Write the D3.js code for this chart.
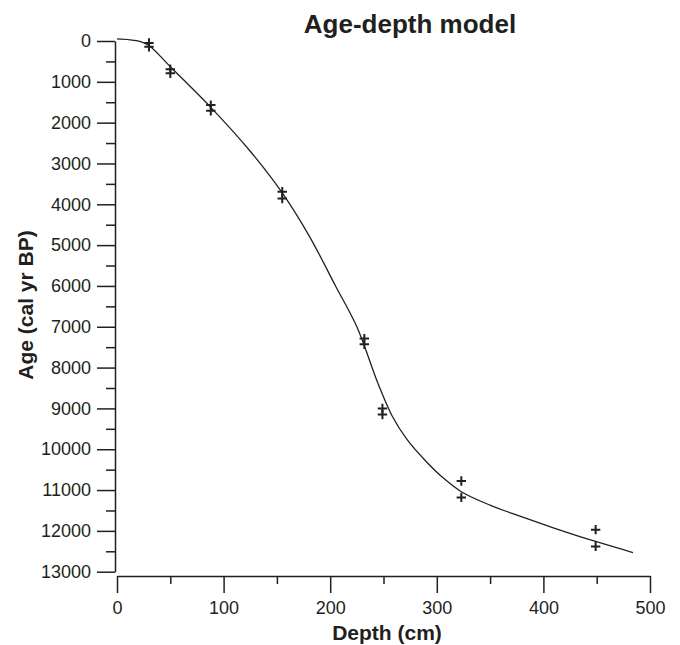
<!DOCTYPE html>
<html>
<head>
<meta charset="utf-8">
<script src="https://cdn.jsdelivr.net/npm/d3@7"></script>
<style>
  body { margin: 0; background: #fff; }
  svg { font-family: "Liberation Sans", Arial, Helvetica, sans-serif; }
</style>
</head>
<body>
<div id="viz"></div>
<script>
// Dated samples: each depth has two calibrated ages
const sampleDepths = [30, 30, 50, 50, 88, 88, 155, 155, 232, 232, 249, 249, 323, 323, 449, 449]
const sampleAges = [50, 140, 690, 790, 1570, 1710, 3690, 3860, 7290, 7430, 9000, 9150, 10780, 11180, 11970, 12380]

// Age-depth model curve
const modelDepths = [0, 12, 22, 30, 50, 88, 125, 155, 180, 205, 225, 245, 258, 272, 290, 305, 323, 350, 378, 410, 449, 484]
const modelAges = [-50, -30, 15, 110, 630, 1625, 2700, 3720, 4760, 6000, 7000, 8400, 9180, 9760, 10300, 10680, 11040, 11370, 11640, 11930, 12260, 12530]

// Axis ticks
const xTicks = [0, 100, 200, 300, 400, 500]
const xMinor = [50, 150, 250, 350, 450]
const yTicks = [0, 1000, 2000, 3000, 4000, 5000, 6000, 7000, 8000, 9000, 10000, 11000, 12000, 13000]
const yMinor = [500, 1500, 2500, 3500, 4500, 5500, 6500, 7500, 8500, 9500, 10500, 11500, 12500]

const ink = '#231f20'

var svg = d3.select('#viz').append('svg')
    .attr('width', 680)
    .attr('height', 645)

var x = d3.scaleLinear().domain([0, 500]).range([117, 650])
var y = d3.scaleLinear().domain([0, 13000]).range([41, 571.7])

// y axis (sits slightly left of the x axis start, like the original)
svg.append('g')
    .attr('transform', 'translate(115,0)')
    .call(d3.axisLeft(y).tickValues(yTicks).tickSize(18).tickSizeOuter(0).tickPadding(6).tickFormat(d3.format('d')))
svg.append('g')
    .attr('transform', 'translate(115,0)')
    .call(d3.axisLeft(y).tickValues(yMinor).tickSize(9).tickSizeOuter(0).tickFormat(''))
    .select('.domain').remove()

svg.append('g')
    .attr('transform', 'translate(0,576)')
    .call(d3.axisBottom(x).tickValues(xTicks).tickSize(17).tickSizeOuter(0).tickPadding(8))
svg.append('g')
    .attr('transform', 'translate(0,576)')
    .call(d3.axisBottom(x).tickValues(xMinor).tickSize(8).tickSizeOuter(0).tickFormat(''))
    .select('.domain').remove()

svg.selectAll('.domain, .tick line')
    .attr('stroke', ink)
    .attr('stroke-width', 1.5)
svg.selectAll('.tick text')
    .attr('fill', ink)
    .attr('font-size', 18)
    .attr('font-family', '"Liberation Sans", Arial, Helvetica, sans-serif')

// model line
var line = d3.line()
    .x(d => x(d[0]))
    .y(d => y(d[1]))
    .curve(d3.curveCatmullRom.alpha(0.5))

svg.append('path')
    .datum(modelDepths.map((d, i) => [d, modelAges[i]]))
    .attr('d', line)
    .attr('fill', 'none')
    .attr('stroke', ink)
    .attr('stroke-width', 1.3)

// sample crosses
svg.selectAll('path.cross')
    .data(sampleDepths.map((d, i) => [d, sampleAges[i]]))
    .enter()
    .append('path')
    .attr('class', 'cross')
    .attr('d', d => {
        let cx = x(d[0]), cy = y(d[1]), r = 4.7
        return 'M' + (cx - r) + ',' + cy + 'H' + (cx + r) + 'M' + cx + ',' + (cy - r) + 'V' + (cy + r)
    })
    .attr('stroke', ink)
    .attr('stroke-width', 2)

// titles
svg.append('text')
    .attr('x', 410)
    .attr('y', 33)
    .attr('text-anchor', 'middle')
    .attr('font-size', 26)
    .attr('font-weight', 'bold')
    .attr('fill', ink)
    .text('Age-depth model')

svg.append('text')
    .attr('x', 387)
    .attr('y', 640)
    .attr('text-anchor', 'middle')
    .attr('font-size', 21)
    .attr('font-weight', 'bold')
    .attr('fill', ink)
    .text('Depth (cm)')

svg.append('text')
    .attr('transform', 'translate(33,305) rotate(-90)')
    .attr('text-anchor', 'middle')
    .attr('font-size', 21)
    .attr('font-weight', 'bold')
    .attr('fill', ink)
    .text('Age (cal yr BP)')
</script>
</body>
</html>
